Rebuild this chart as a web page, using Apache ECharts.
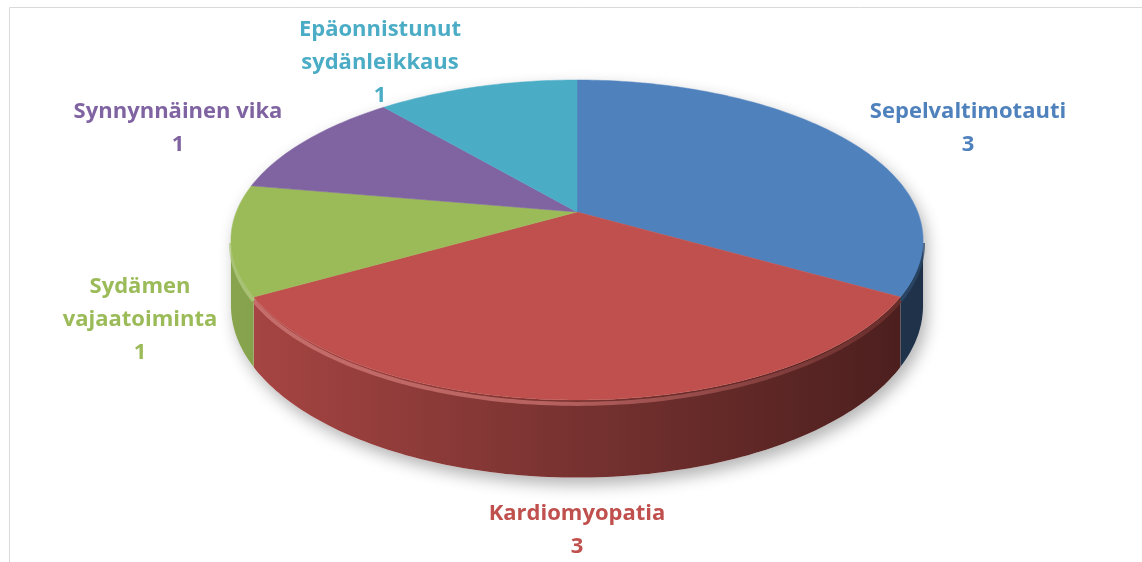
<!DOCTYPE html>
<html>
<head>
<meta charset="utf-8">
<script src="https://cdn.jsdelivr.net/npm/echarts@6/dist/echarts.min.js"></script>
<style>
  html, body { margin: 0; padding: 0; background: #fff; }
  #pie3d { width: 1142px; height: 562px; }
</style>
</head>
<body>
<div id="pie3d"></div>
<script>
// data
var categories = ['Sepelvaltimotauti', 'Kardiomyopatia', 'Sydämen vajaatoiminta', 'Synnynnäinen vika', 'Epäonnistunut sydänleikkaus'];
var values = [3, 3, 1, 1, 1];

// style / layout
var topColors = ['#4F81BD', '#C0504D', '#9BBB59', '#8064A2', '#4BACC6'];
var labelColors = ['#4F81BD', '#C0504D', '#9BBB59', '#8064A2', '#4BACC6'];
var wrapLabel = [false, false, true, false, true];
var labelAt = [[968, 128], [577, 530], [140, 320], [178, 128], [380, 63]];

var CX = 577, CY = 212, A = 340.7, B = 155.1, K = 0.175, H = 64;
var total = values.reduce(function (s, v) { return s + v; }, 0);
var starts = [];
values.reduce(function (acc, v) { starts.push(acc); return acc + v / total * 360; }, 0);

// theta in degrees, clockwise from back (12 o'clock); h = 0 top face, 1 bottom
function proj(theta, r, h) {
  var t = theta * Math.PI / 180;
  var u = r * Math.sin(t), v = r * Math.cos(t), w = 1 + K * v;
  return [CX + A * u / w, CY - B * v / w + H * h / w];
}
function arc(a, b, h) {
  var pts = [], n = Math.max(2, Math.ceil(Math.abs(b - a)));
  for (var k = 0; k <= n; k++) pts.push(proj(a + (b - a) * k / n, 1, h));
  return pts;
}
function shade(hex, f) {
  var c = echarts.color.parse(hex);
  return 'rgb(' + Math.round(c[0] * f) + ',' + Math.round(c[1] * f) + ',' + Math.round(c[2] * f) + ')';
}
function lighten(hex, f) {
  var c = echarts.color.parse(hex);
  return 'rgb(' + [0, 1, 2].map(function (j) { return Math.round(c[j] + (255 - c[j]) * f); }).join(',') + ')';
}

function renderItem(params, api) {
  var i = params.dataIndex;
  var a0 = starts[i], a1 = a0 + api.value(0) / total * 360;
  var children = [];

  if (i === 0) {
    // soft shadow under the whole pie
    var sil = arc(100, 260, 1).concat(arc(260, 460, 0));
    children.push({
      type: 'polygon', shape: { points: sil },
      style: { fill: '#ffffff', shadowColor: 'rgba(0,0,0,0.30)', shadowBlur: 16, shadowOffsetX: 4, shadowOffsetY: 7 }
    });
  }

  // visible side wall
  var s0 = Math.max(a0, 100), s1 = Math.min(a1, 260);
  if (s1 > s0) {
    var wall = arc(s0, s1, 0).concat(arc(s1, s0, 1));
    children.push({
      type: 'polygon', shape: { points: wall },
      style: {
        fill: new echarts.graphic.LinearGradient(230, 0, 923, 0, [
          { offset: 0, color: shade(topColors[i], 0.88) },
          { offset: 0.5, color: shade(topColors[i], 0.62) },
          { offset: 1, color: shade(topColors[i], 0.38) }
        ], true)
      }
    });
    // bevel highlight along the top rim
    children.push({
      type: 'polyline', shape: { points: arc(s0, s1, 0.05) },
      style: {
        fill: null, lineWidth: 4,
        stroke: new echarts.graphic.LinearGradient(230, 0, 923, 0, [
          { offset: 0, color: lighten(topColors[i], 0.25) },
          { offset: 0.45, color: lighten(topColors[i], 0.2) },
          { offset: 1, color: shade(topColors[i], 0.55) }
        ], true),
        opacity: 0.75
      }
    });
  }

  // top face
  var face = [proj(0, 0, 0)].concat(arc(a0, a1, 0));
  children.push({
    type: 'polygon', shape: { points: face },
    style: { fill: topColors[i], stroke: topColors[i], lineWidth: 0.5 }
  });

  // label
  var name = wrapLabel[i] ? categories[i].replace(' ', '\n') : categories[i];
  children.push({
    type: 'text', z2: 10,
    style: {
      text: name + '\n' + api.value(0),
      x: labelAt[i][0], y: labelAt[i][1],
      align: 'center', verticalAlign: 'middle',
      fill: labelColors[i], fontSize: 22, fontWeight: 'bold',
      fontFamily: 'Open Sans', lineHeight: 33
    }
  });

  return { type: 'group', children: children };
}

var chartDom = document.getElementById('pie3d');
var myChart = echarts.init(chartDom);
var option;

option = {
  animation: false,
  graphic: [
    { type: 'rect', shape: { x: 9.5, y: 7.5, width: 1200, height: 600 }, style: { fill: null, stroke: '#D9D9D9', lineWidth: 1 }, z: -10 }
  ],
  series: [
    {
      type: 'custom',
      coordinateSystem: 'none',
      renderItem: renderItem,
      data: values
    }
  ]
};

option && myChart.setOption(option);
</script>
</body>
</html>
